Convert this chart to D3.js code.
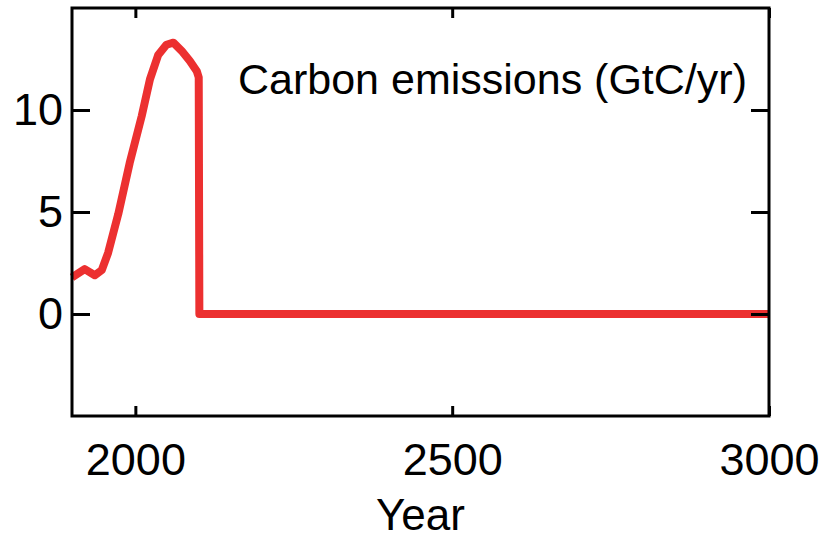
<!DOCTYPE html>
<html lang="en">
  <head>
    <meta charset="UTF-8" />
    <title>Carbon emissions</title>
    <style>
      body { margin: 0; background: #fff; }
      text { font-family: 'Liberation Sans', Arial, sans-serif; fill: #000; }
    </style>
  </head>
  <body>
    <script src="https://d3js.org/d3.v7.min.js"></script>
    <script>
      // emissions path (GtC/yr)
      const years = [1900, 1920, 1936, 1947, 1957, 1973, 1991, 2010, 2023, 2036, 2049, 2060, 2073, 2086, 2097, 2100, 2101, 3000]
      const emissions = [1.8, 2.2, 1.9, 2.15, 3.0, 4.9, 7.4, 9.7, 11.5, 12.7, 13.2, 13.3, 12.9, 12.4, 11.9, 11.6, 0, 0]
      const xTicks = [2000, 2500, 3000]
      const yTicks = [0, 5, 10]

      const width = 831
      const height = 540
      const padding = { top: 8, right: 62, bottom: 124, left: 72 }

      const svg = d3.select('body').append('svg')
        .attr('width', width)
        .attr('height', height)

      const x = d3.scaleLinear()
        .domain([1900, 3000])
        .range([padding.left, width - padding.right])

      const y = d3.scaleLinear()
        .domain([-5, 15])
        .range([height - padding.bottom, padding.top])

      const data = years.map((d, i) => ({ year: d, value: emissions[i] }))

      const line = d3.line()
        .x(d => x(d.year))
        .y(d => y(d.value))

      svg.append('path')
        .datum(data)
        .attr('fill', 'none')
        .attr('stroke', '#ec3030')
        .attr('stroke-width', 8)
        .attr('stroke-linejoin', 'round')
        .attr('d', line)

      const bottomY = height - padding.bottom
      const rightX = width - padding.right

      const tidy = g => {
        g.select('.domain').remove()
        g.selectAll('line').attr('stroke', '#000').attr('stroke-width', 3)
        g.selectAll('text').attr('font-size', 45).attr('font-family', null)
      }

      svg.append('g')
        .attr('transform', `translate(0,${bottomY})`)
        .call(d3.axisBottom(x).tickValues(xTicks).tickSize(-10).tickPadding(27).tickFormat(d3.format('d')))
        .call(tidy)

      svg.append('g')
        .attr('transform', `translate(0,${padding.top})`)
        .call(d3.axisTop(x).tickValues(xTicks).tickSize(-10).tickFormat(''))
        .call(tidy)

      svg.append('g')
        .attr('transform', `translate(${padding.left},0)`)
        .call(d3.axisLeft(y).tickValues(yTicks).tickSize(-18).tickPadding(9))
        .call(tidy)

      svg.append('g')
        .attr('transform', `translate(${rightX},0)`)
        .call(d3.axisRight(y).tickValues(yTicks).tickSize(-18).tickFormat(''))
        .call(tidy)

      // frame
      svg.append('rect')
        .attr('x', padding.left)
        .attr('y', padding.top)
        .attr('width', rightX - padding.left)
        .attr('height', bottomY - padding.top)
        .attr('fill', 'none')
        .attr('stroke', '#000')
        .attr('stroke-width', 3)

      svg.append('text')
        .attr('x', 238)
        .attr('y', 94)
        .attr('font-size', 43)
        .text('Carbon emissions (GtC/yr)')

      svg.append('text')
        .attr('x', (padding.left + rightX) / 2)
        .attr('y', 530)
        .attr('text-anchor', 'middle')
        .attr('font-size', 44)
        .text('Year')
    </script>
  </body>
</html>
